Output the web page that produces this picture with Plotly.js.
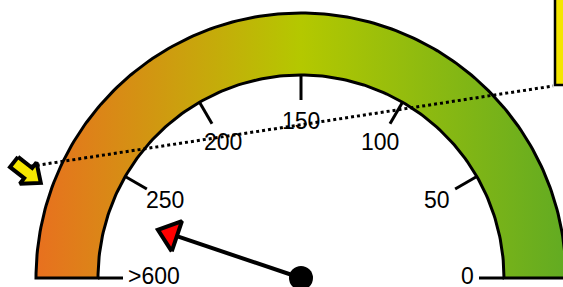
<!DOCTYPE html>
<html>
<head>
<meta charset="utf-8">
<script src="https://cdn.plot.ly/plotly-3.0.1.min.js"></script>
<style>html,body{margin:0;padding:0;background:#fff;}#chart{width:563px;height:287px;}</style>
</head>
<body>
<div id="chart"></div>
<script>
// ---- data ----
var tickValues = [0, 50, 100, 150, 200, 250, 300];
var tickLabels = ['0', '50', '100', '150', '200', '250', '>600'];
var scaleMax = 300;
var needleValue = 269;
var bandColors = ['#e8701f', '#b4c800', '#62ab22'];

// ---- geometry helpers (units = px, gauge centre at origin) ----
var R_OUT = 265, R_IN = 203, TICK_LEN = 25, LABEL_R = 157;
function ang(v) { return Math.PI * v / scaleMax; }
function pol(r, a) { return [r * Math.cos(a), r * Math.sin(a)]; }
// screen px -> data (centre at px (301,278))
function sx(px) { return px - 301; }
function sy(py) { return 278 - py; }

var traces = [];

// band
var bx = [], by = [], i, N = 180;
for (i = 0; i <= N; i++) { var a = Math.PI * i / N; bx.push(R_OUT * Math.cos(a)); by.push(R_OUT * Math.sin(a)); }
for (i = N; i >= 0; i--) { var a2 = Math.PI * i / N; bx.push(R_IN * Math.cos(a2)); by.push(R_IN * Math.sin(a2)); }
bx.push(bx[0]); by.push(by[0]);
traces.push({
  type: 'scatter', mode: 'lines', x: bx, y: by, fill: 'toself',
  fillgradient: { type: 'horizontal', colorscale: [[0, bandColors[0]], [0.5, bandColors[1]], [1, bandColors[2]]] },
  line: { color: '#000', width: 3 }, hoverinfo: 'skip', showlegend: false
});

// ticks
var tx = [], ty = [];
tickValues.forEach(function (v) {
  var a = ang(v), p1 = pol(R_IN, a), p2 = pol(R_IN - TICK_LEN, a);
  tx.push(p1[0], p2[0], null); ty.push(p1[1], p2[1], null);
});
traces.push({ type: 'scatter', mode: 'lines', x: tx, y: ty, line: { color: '#000', width: 3 }, hoverinfo: 'skip', showlegend: false });

// labels
var annotations = [];
tickValues.forEach(function (v, k) {
  var a = ang(v), p, xa = 'center';
  if (v === 0) { p = pol(R_IN - TICK_LEN - 3, a); xa = 'right'; p[1] += 2; }
  else if (v === scaleMax) { p = pol(R_IN - TICK_LEN - 3, a); xa = 'left'; p[1] += 2; }
  else p = pol(LABEL_R, a);
  annotations.push({ x: p[0], y: p[1], text: tickLabels[k], showarrow: false, xanchor: xa, yanchor: 'middle',
    font: { family: 'Liberation Sans, Arial, sans-serif', size: 23, color: '#000' } });
});

// dotted connector
traces.push({ type: 'scatter', mode: 'lines', x: [sx(13), sx(553)], y: [sy(169), sy(86)],
  line: { color: '#000', width: 3, dash: 'dot' }, hoverinfo: 'skip', showlegend: false });

// yellow arrow (callout pointer)
(function () {
  var T = [14, 162], d = Math.PI * 38 / 180, u = [Math.cos(d), Math.sin(d)], n = [-Math.sin(d), Math.cos(d)];
  var sl = 18, hl = 16, sw = 6.5, hw = 13.5;
  function P(a, b) { return [T[0] + u[0] * a + n[0] * b, T[1] + u[1] * a + n[1] * b]; }
  var pts = [P(0, -sw), P(sl, -sw), P(sl, -hw), P(sl + hl, 0), P(sl, hw), P(sl, sw), P(0, sw), P(0, -sw)];
  traces.push({ type: 'scatter', mode: 'lines', fill: 'toself', fillcolor: '#f5e600',
    x: pts.map(function (p) { return sx(p[0]); }), y: pts.map(function (p) { return sy(p[1]); }),
    line: { color: '#000', width: 4 }, hoverinfo: 'skip', showlegend: false });
})();

// needle
var na = ang(needleValue);
var nb = pol(131, na);
traces.push({ type: 'scatter', mode: 'lines', x: [0, nb[0]], y: [0, nb[1]], line: { color: '#000', width: 4 }, hoverinfo: 'skip', showlegend: false });
var tip = pol(151, na), perp = [-Math.sin(na), Math.cos(na)];
var HW = 16;
var triX = [nb[0] + perp[0] * HW, tip[0], nb[0] - perp[0] * HW, nb[0] + perp[0] * HW];
var triY = [nb[1] + perp[1] * HW, tip[1], nb[1] - perp[1] * HW, nb[1] + perp[1] * HW];
traces.push({ type: 'scatter', mode: 'lines', fill: 'toself', fillcolor: '#ff0000', x: triX, y: triY,
  line: { color: '#000', width: 4 }, hoverinfo: 'skip', showlegend: false });
traces.push({ type: 'scatter', mode: 'markers', x: [0], y: [0], marker: { color: '#000', size: 24 }, hoverinfo: 'skip', showlegend: false });

var layout = {
  width: 563, height: 287, margin: { l: 0, r: 0, t: 0, b: 0 },
  paper_bgcolor: '#fff', plot_bgcolor: '#fff',
  xaxis: { range: [-301, 262], visible: false, fixedrange: true },
  yaxis: { range: [-9, 278], visible: false, fixedrange: true },
  showlegend: false, annotations: annotations,
  shapes: [
    { type: 'rect', xref: 'x', yref: 'y', x0: sx(555), x1: sx(580), y0: sy(85), y1: sy(-10),
      fillcolor: '#f5e600', line: { color: '#000', width: 2.5 } }
  ]
};
Plotly.newPlot('chart', traces, layout, { staticPlot: true, displayModeBar: false });
</script>
</body>
</html>
